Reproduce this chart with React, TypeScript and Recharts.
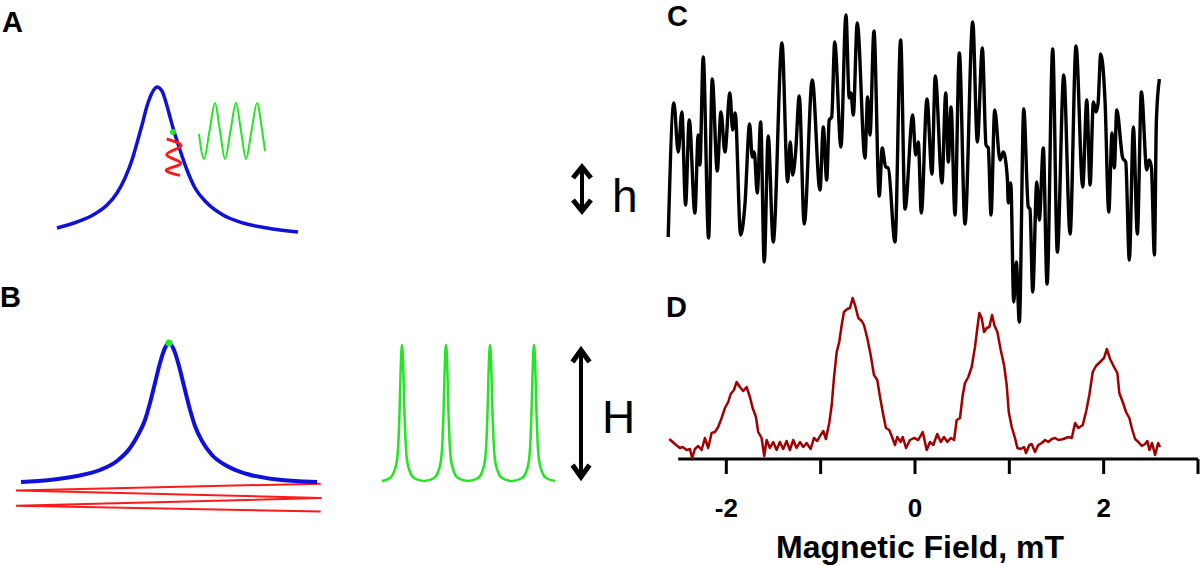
import React from 'react';
import { LineChart, Line, XAxis, YAxis, ReferenceDot, ReferenceLine } from 'recharts';

const FONT = '"Liberation Sans", Arial, Helvetica, sans-serif';

// Panel A: broad absorption line, field modulation and detected signal (arbitrary units)
const lineAField = [-10, -8, -6.4, -5, -4, -3.2, -2.5, -2, -1.5, -1, -0.5, 0, 0.5, 1, 1.6, 2.3, 3, 3.8, 5, 6.6, 8.6, 11, 14.1];
const lineASignal = [0.4, 1.0, 1.7, 2.7, 3.9, 5.4, 7.2, 8.9, 10.7, 12.6, 13.9, 14.5, 14.1, 12.6, 10.4, 8.2, 6.2, 4.4, 2.9, 1.7, 0.9, 0.4, 0];
const modAField = [0.97, 2.37, 0.97, 2.37, 0.97, 2.3];
const modASignal = [9.3, 8.56, 7.73, 6.9, 6.23, 5.66];
const waveAField = [4.2, 4.7, 5.25, 5.8, 6.3, 6.8, 7.35, 7.9, 8.4, 8.9, 9.45, 10.0, 10.52, 10.8];
const waveASignal = [9.8, 7.3, 10.1, 12.9, 10.1, 7.3, 10.1, 12.9, 10.1, 7.3, 10.1, 12.9, 10.1, 8.1];
const probeA = { x: 1.6, y: 10.0 };

// Panel B: narrow line, large field sweep and resulting comb
const lineBField = [-14.8, -11.9, -9.2, -6.9, -5.2, -3.9, -3.1, -2.4, -1.9, -1.4, -0.9, -0.4, 0, 0.5, 1.0, 1.5, 2.0, 2.6, 3.3, 4.3, 5.8, 7.8, 10.4, 14.8];
const lineBSignal = [0, 0.2, 0.6, 1.2, 2.1, 3.4, 4.7, 6.2, 7.9, 9.9, 11.9, 13.4, 13.9, 13.2, 11.6, 9.6, 7.6, 5.6, 4.1, 2.7, 1.6, 0.8, 0.3, 0];
const sweepBField = [15.17, -15.3, 15.27, -15.3, 15.17];
const sweepBSignal = [-0.17, -0.84, -1.6, -2.37, -2.94];
const probeB = { x: 0, y: 13.9 };

const combTime = [0,
  0.8, 1.2, 1.5, 1.65, 1.75, 1.85, 1.93, 2.0, 2.07, 2.15, 2.25, 2.35, 2.5, 2.8, 3.2, 4.2,
  5.2, 5.6, 5.9, 6.05, 6.15, 6.25, 6.33, 6.4, 6.47, 6.55, 6.65, 6.75, 6.9, 7.2, 7.6, 8.6,
  9.6, 10.0, 10.3, 10.45, 10.55, 10.65, 10.73, 10.8, 10.87, 10.95, 11.05, 11.15, 11.3, 11.6, 12.0, 13.0,
  14.0, 14.4, 14.7, 14.85, 14.95, 15.05, 15.13, 15.2, 15.27, 15.35, 15.45, 15.55, 15.7, 16.0, 16.4, 17.3];
const combSignal = [0.1,
  0.4, 1.0, 2.2, 4.2, 6.9, 10.7, 13.0, 13.7, 13.0, 10.7, 6.9, 4.2, 2.2, 1.0, 0.4, 0.1,
  0.4, 1.0, 2.2, 4.2, 6.9, 10.7, 13.0, 13.7, 13.0, 10.7, 6.9, 4.2, 2.2, 1.0, 0.4, 0.1,
  0.4, 1.0, 2.2, 4.2, 6.9, 10.7, 13.0, 13.7, 13.0, 10.7, 6.9, 4.2, 2.2, 1.0, 0.4, 0.1,
  0.4, 1.0, 2.2, 4.2, 6.9, 10.7, 13.0, 13.7, 13.0, 10.7, 6.9, 4.2, 2.2, 1.0, 0.4, 0.1];

// Panel C: conventional spectrum (offset, a.u.)
const cField = [
  -2.616, -2.556, -2.510, -2.471, -2.432, -2.393, -2.333, -2.298, -2.280, -2.245,
  -2.188, -2.149, -2.096, -2.057, -2.015, -1.962, -1.933, -1.906, -1.848, -1.803,
  -1.753, -1.725, -1.704, -1.672, -1.636, -1.598, -1.556, -1.503, -1.410, -1.350,
  -1.322, -1.297, -1.265, -1.227, -1.174, -1.089, -1.007, -0.972, -0.936, -0.909,
  -0.883, -0.851, -0.785, -0.732, -0.697, -0.679, -0.654, -0.612, -0.530, -0.502,
  -0.477, -0.435, -0.379, -0.347, -0.311, -0.283, -0.212, -0.152, -0.106, -0.024,
  0.007, 0.035, 0.067, 0.127, 0.180, 0.215, 0.286, 0.326, 0.353, 0.382,
  0.424, 0.470, 0.530, 0.612, 0.661, 0.714, 0.753, 0.777, 0.806, 0.845,
  0.901, 0.936, 0.979, 0.989, 1.015, 1.047, 1.074, 1.106, 1.153, 1.201,
  1.219, 1.248, 1.291, 1.318, 1.360, 1.400, 1.460, 1.509, 1.577, 1.644,
  1.707, 1.778, 1.821, 1.856, 1.891, 1.919, 1.941, 1.969, 2.015, 2.054,
  2.089, 2.113, 2.139, 2.202, 2.234, 2.272, 2.315, 2.357, 2.400, 2.457,
  2.481, 2.506, 2.538, 2.559, 2.591];
const cSignal = [
  22.2, 35.6, 30.7, 34.7, 25.4, 33.9, 24.6, 32.4, 29.4, 40.2,
  22.1, 38.0, 28.8, 34.7, 30.7, 36.6, 32.9, 34.6, 22.4, 25.4,
  33.5, 30.2, 30.7, 26.6, 33.7, 19.7, 32.3, 21.7, 41.6, 27.7,
  31.7, 28.4, 30.7, 36.3, 23.5, 37.9, 26.9, 33.2, 27.9, 33.9,
  34.2, 41.7, 31.2, 44.4, 36.1, 36.6, 34.4, 43.6, 30.1, 36.2,
  32.4, 42.8, 26.3, 31.1, 29.2, 29.1, 21.7, 41.9, 25.0, 34.4,
  30.4, 31.7, 24.6, 36.0, 28.5, 38.3, 27.6, 36.6, 29.7, 35.2,
  24.4, 40.6, 23.5, 43.7, 31.7, 41.1, 31.4, 31.1, 24.4, 34.9,
  29.9, 30.7, 28.1, 25.6, 27.6, 15.7, 19.7, 13.7, 35.0, 25.2,
  25.0, 16.7, 27.7, 23.9, 31.1, 17.5, 41.0, 20.7, 38.4, 22.5,
  41.3, 27.2, 35.9, 27.4, 35.7, 34.7, 35.6, 40.5, 35.7, 24.7,
  32.6, 29.1, 34.9, 30.1, 29.7, 19.9, 33.2, 22.5, 36.7, 28.9,
  29.9, 29.2, 20.4, 33.9, 38.0];

// Panel D: rapid-scan spectrum
const dField = [
  -2.605, -2.545, -2.492, -2.463, -2.421, -2.386, -2.362, -2.333, -2.298, -2.262,
  -2.227, -2.192, -2.156, -2.121, -2.086, -2.050, -2.015, -1.980, -1.954, -1.919,
  -1.891, -1.856, -1.821, -1.785, -1.750, -1.721, -1.686, -1.662, -1.626, -1.598,
  -1.573, -1.538, -1.503, -1.467, -1.432, -1.397, -1.361, -1.326, -1.291, -1.255,
  -1.219, -1.184, -1.149, -1.106, -1.071, -1.036, -1.000, -0.972, -0.944, -0.909,
  -0.883, -0.859, -0.830, -0.803, -0.777, -0.753, -0.718, -0.689, -0.661, -0.633,
  -0.601, -0.565, -0.541, -0.506, -0.470, -0.435, -0.400, -0.371, -0.336, -0.308,
  -0.273, -0.247, -0.212, -0.188, -0.152, -0.130, -0.095, -0.053, -0.011, 0.035,
  0.082, 0.124, 0.159, 0.194, 0.236, 0.273, 0.308, 0.343, 0.379, 0.414,
  0.442, 0.477, 0.506, 0.530, 0.565, 0.601, 0.636, 0.661, 0.682, 0.707,
  0.732, 0.760, 0.788, 0.817, 0.841, 0.873, 0.909, 0.944, 0.972, 0.994,
  1.025, 1.060, 1.085, 1.121, 1.156, 1.177, 1.212, 1.237, 1.272, 1.307,
  1.344, 1.379, 1.413, 1.450, 1.485, 1.520, 1.573, 1.626, 1.662, 1.697,
  1.732, 1.778, 1.813, 1.848, 1.884, 1.919, 1.962, 2.004, 2.033, 2.068,
  2.110, 2.145, 2.166, 2.202, 2.237, 2.272, 2.298, 2.333, 2.368, 2.404,
  2.439, 2.463, 2.485, 2.513, 2.545, 2.577, 2.598];
const dSignal = [
  2.0, 1.5, 1.1, 1.2, 0.9, 1.0, 0.1, 1.0, 1.3, 0.9,
  2.1, 1.1, 2.6, 2.7, 3.2, 4.1, 5.1, 5.7, 6.5, 6.9,
  7.7, 7.2, 6.8, 7.2, 6.2, 5.1, 4.2, 2.7, 2.1, 0.3,
  1.9, 1.1, 1.7, 0.9, 1.7, 1.0, 1.8, 0.9, 1.9, 1.1,
  1.7, 1.2, 1.6, 1.0, 2.1, 1.8, 2.4, 2.8, 2.0, 3.6,
  5.4, 8.1, 10.7, 11.7, 13.4, 14.7, 15.0, 15.1, 16.1, 15.3,
  14.1, 13.8, 13.4, 12.1, 10.4, 8.4, 7.9, 6.2, 4.4, 3.1,
  2.9, 2.3, 1.4, 2.2, 1.7, 2.2, 1.1, 1.9, 2.1, 1.9,
  2.7, 0.9, 1.7, 1.4, 2.5, 1.7, 2.2, 1.7, 2.1, 1.9,
  3.9, 4.1, 6.4, 7.6, 8.2, 9.2, 11.2, 13.1, 14.6, 14.1,
  12.7, 13.1, 13.2, 14.4, 13.4, 12.7, 10.9, 9.4, 7.4, 4.7,
  3.2, 2.1, 1.1, 1.0, 1.2, 0.6, 1.4, 1.5, 0.7, 1.4,
  1.6, 1.9, 1.7, 2.0, 2.1, 1.9, 2.0, 2.2, 2.1, 3.6,
  3.1, 3.4, 4.7, 6.4, 8.7, 9.3, 9.7, 10.1, 11.0, 10.0,
  9.2, 8.6, 6.6, 5.7, 4.7, 4.1, 3.1, 2.0, 1.7, 1.3,
  1.5, 1.8, 0.9, 1.6, 0.4, 1.6, 1.2];

const fieldTicks = [-2, -1, 0, 1, 2, 3];

const zip = (xs: number[], ys: number[]) => xs.map((x, i) => ({ x, y: ys[i] }));

const BLUE = '#1010dd';
const GREEN = '#22e622';
const RED = '#ff1a1a';
const M = { top: 10, right: 10, bottom: 10, left: 10 };

// only even ticks carry a number
const FieldTick = (props: any) => {
  const { x, y, payload } = props;
  const v = payload.value;
  if (v % 2 !== 0) return null;
  return (
    <text x={x} y={y} dy={18} textAnchor="middle" fontSize={26} fontWeight={700} fontFamily={FONT} fill="#000">
      {String(v)}
    </text>
  );
};

const label = (text: string, left: number, top: number, size: number, bold = true) => (
  <div
    style={{
      position: 'absolute',
      left,
      top,
      fontFamily: FONT,
      fontSize: size,
      fontWeight: bold ? 700 : 400,
      lineHeight: 1,
      color: '#000',
      whiteSpace: 'nowrap',
    }}
  >
    {text}
  </div>
);

export default function App() {
  return (
    <div style={{ position: 'absolute', left: 0, top: 0, width: 1200, height: 566, background: '#fff', overflow: 'hidden' }}>
      {/* A */}
      <div style={{ position: 'absolute', left: 47, top: 77 }}>
        <LineChart width={261} height={165} margin={M}>
          <XAxis type="number" dataKey="x" domain={[-10, 14.1]} hide />
          <YAxis type="number" domain={[0, 14.5]} hide />
          <Line data={zip(lineAField, lineASignal)} dataKey="y" type="monotone" stroke={BLUE} strokeWidth={3.5} dot={false} activeDot={false} isAnimationActive={false} />
          <Line data={zip(modAField, modASignal)} dataKey="y" type="natural" stroke={RED} strokeWidth={3} dot={false} activeDot={false} isAnimationActive={false} />
          <Line data={zip(waveAField, waveASignal)} dataKey="y" type="monotone" stroke={GREEN} strokeWidth={2} dot={false} activeDot={false} isAnimationActive={false} />
          <ReferenceDot x={probeA.x} y={probeA.y} r={3} fill={GREEN} stroke="none" />
        </LineChart>
      </div>

      {/* B */}
      <div style={{ position: 'absolute', left: 6, top: 333 }}>
        <LineChart width={326} height={189} margin={M}>
          <XAxis type="number" dataKey="x" domain={[-15.3, 15.3]} hide />
          <YAxis type="number" domain={[-3, 13.9]} hide />
          <Line data={zip(sweepBField, sweepBSignal)} dataKey="y" type="linear" stroke={RED} strokeWidth={2} dot={false} activeDot={false} isAnimationActive={false} />
          <Line data={zip(lineBField, lineBSignal)} dataKey="y" type="monotone" stroke={BLUE} strokeWidth={4} dot={false} activeDot={false} isAnimationActive={false} />
          <ReferenceDot x={probeB.x} y={probeB.y} r={3.5} fill={GREEN} stroke="none" />
        </LineChart>
      </div>

      {/* comb */}
      <div style={{ position: 'absolute', left: 372, top: 335 }}>
        <LineChart width={193} height={157} margin={M}>
          <XAxis type="number" dataKey="x" domain={[0, 17.3]} hide />
          <YAxis type="number" domain={[0, 13.7]} hide />
          <Line data={zip(combTime, combSignal)} dataKey="y" type="monotone" stroke={GREEN} strokeWidth={2.5} dot={false} activeDot={false} isAnimationActive={false} />
        </LineChart>
      </div>

      {/* C and D */}
      <div style={{ position: 'absolute', left: 600, top: 0 }}>
        <LineChart width={600} height={566} margin={{ top: 0, right: 2, bottom: 0, left: 65 }}>
          <XAxis
            type="number"
            dataKey="x"
            domain={[-2.65, 3]}
            ticks={fieldTicks}
            interval={0}
            height={107}
            axisLine={false}
            tickLine={{ stroke: '#000', strokeWidth: 3 }}
            tickSize={15}
            tickMargin={25}
            tick={<FieldTick />}
          />
          <YAxis type="number" domain={[0, 45.9]} hide />
          <ReferenceLine segment={[{ x: -2.51, y: 0 }, { x: 3, y: 0 }]} stroke="#000" strokeWidth={3} />
          <Line data={zip(cField, cSignal)} dataKey="y" type="monotone" stroke="#000" strokeWidth={3.4} strokeLinejoin="round" dot={false} activeDot={false} isAnimationActive={false} />
          <Line data={zip(dField, dSignal)} dataKey="y" type="linear" stroke="#a00000" strokeWidth={2.5} strokeLinejoin="round" dot={false} activeDot={false} isAnimationActive={false} />
        </LineChart>
      </div>

      {/* double arrows */}
      <svg width={1200} height={566} style={{ position: 'absolute', left: 0, top: 0 }}>
        <g stroke="#000" fill="none" strokeLinejoin="miter">
          <line x1={582} y1={166} x2={582} y2={212} strokeWidth={4} />
          <polyline points="573,178 582,167 591,178" strokeWidth={5} />
          <polyline points="573,200 582,211 591,200" strokeWidth={5} />
          <line x1={581} y1={349} x2={581} y2={478} strokeWidth={4} />
          <polyline points="572.5,362 581,350 589.5,362" strokeWidth={5} />
          <polyline points="572.5,465 581,477 589.5,465" strokeWidth={5} />
        </g>
      </svg>

      {label('A', 2, 8, 29)}
      {label('B', 0, 283, 29)}
      {label('C', 667, 2, 29)}
      {label('D', 666, 293, 29)}
      {label('h', 612, 173, 46, false)}
      {label('H', 602, 394, 46, false)}
      <div
        style={{
          position: 'absolute',
          left: 770,
          top: 531,
          width: 300,
          textAlign: 'center',
          fontFamily: FONT,
          fontSize: 32,
          fontWeight: 700,
          lineHeight: 1,
          color: '#000',
          whiteSpace: 'nowrap',
        }}
      >
        Magnetic Field, mT
      </div>
    </div>
  );
}
